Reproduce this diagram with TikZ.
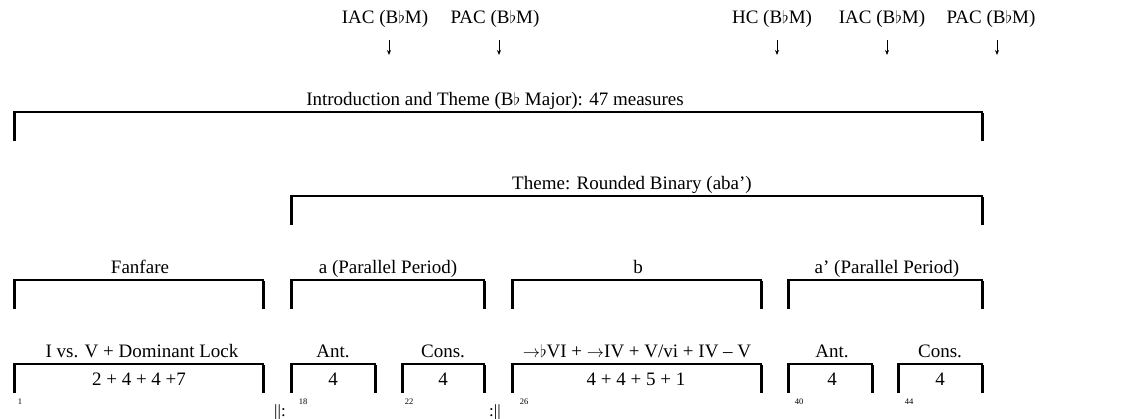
\documentclass[tikz,border=0pt]{standalone}
\usepackage{fontspec}
\setmainfont{Liberation Serif}
\usetikzlibrary{arrows.meta}
\tikzset{
  brk/.style={line width=2.2pt, line join=miter, line cap=butt},
  brkv/.style={line width=3pt, line cap=butt},
  lbl/.style={anchor=base, inner sep=0pt, font=\fontsize{19}{21}\selectfont},
  num/.style={anchor=base, inner sep=0pt, font=\fontsize{8.5}{9}\selectfont},
  rep/.style={anchor=base, inner sep=0pt, font=\fontsize{17}{19}\selectfont},
  arr/.style={line width=0.8pt, -{Stealth[length=5pt,width=4pt]}},
}
\newcommand\fl{\ensuremath{\flat}}
% bracket: left x, right x, top y
\newcommand\bracketdraw[3]{%
  \draw[brk] (#1,#3+29) |- (#2,#3) -- (#2,#3+29);
  \draw[brkv] (#1,#3+1) -- (#1,#3+29);
  \draw[brkv] (#2,#3+1) -- (#2,#3+29);
}
\begin{document}
\begin{tikzpicture}[x=1pt,y=-1pt]
\useasboundingbox (0,0) rectangle (1127,419);
% cadence labels and arrows
\node[lbl] (c1) at (385,24) {IAC (B\fl M)};
\node[lbl] (c2) at (495,24) {PAC (B\fl M)};
\node[lbl] (c3) at (772,24) {HC (B\fl M)};
\node[lbl] (c4) at (882,24) {IAC (B\fl M)};
\node[lbl] (c5) at (991,24) {PAC (B\fl M)};
\coordinate (a1s) at (389,40); \coordinate (a1e) at (389,55);
\coordinate (a2s) at (499,40); \coordinate (a2e) at (499,55);
\coordinate (a3s) at (777,40); \coordinate (a3e) at (777,55);
\coordinate (a4s) at (887,40); \coordinate (a4e) at (887,55);
\coordinate (a5s) at (997,40); \coordinate (a5e) at (997,55);
\foreach \i in {1,...,5} \draw[arr] (a\i s) -- (a\i e);
% level 1
\node[lbl] (intro) at (495,106) {Introduction and Theme (B\fl{} Major): 47 measures};
\bracketdraw{14}{982}{112}
% level 2
\node[lbl] (theme) at (632,190) {Theme: Rounded Binary (aba')};
\bracketdraw{291}{982}{196}
% level 3
\node[lbl] (fan) at (140,274) {Fanfare};
\bracketdraw{14}{263}{280}
\node[lbl] (pa) at (388,274) {a (Parallel Period)};
\bracketdraw{291}{484}{280}
\node[lbl] (pb) at (638,274) {b};
\bracketdraw{512}{761}{280}
\node[lbl] (pa2) at (887,274) {a' (Parallel Period)};
\bracketdraw{788}{982}{280}
% level 4
\node[lbl] (f1) at (142,358) {I vs. V + Dominant Lock};
\node[lbl] (f2) at (139,385) {2 + 4 + 4 +7};
\bracketdraw{14}{263}{364}
\node[lbl] (aa1) at (333,358) {Ant.};
\node[lbl] (aa2) at (333,385) {4};
\bracketdraw{291}{375}{364}
\node[lbl] (ac1) at (443,358) {Cons.};
\node[lbl] (ac2) at (443,385) {4};
\bracketdraw{402}{484}{364}
\node[lbl] (b1) at (637,358) {$\rightarrow$\fl VI + $\rightarrow$IV + V/vi + IV -- V};
\node[lbl] (b2) at (636,385) {4 + 4 + 5 + 1};
\bracketdraw{512}{761}{364}
\node[lbl] (da1) at (832,358) {Ant.};
\node[lbl] (da2) at (832,385) {4};
\bracketdraw{788}{872}{364}
\node[lbl] (dc1) at (940,358) {Cons.};
\node[lbl] (dc2) at (940,385) {4};
\bracketdraw{898}{982}{364}
% measure numbers and repeats
\node[num] (m1) at (20,405) {1};
\node[num] (m18) at (303,405) {18};
\node[num] (m22) at (409,405) {22};
\node[num] (m26) at (524,405) {26};
\node[num] (m40) at (799,405) {40};
\node[num] (m44) at (909,405) {44};
\node[rep] (r1) at (280,416) {||:};
\node[rep] (r2) at (495,416) {:||};
\end{tikzpicture}
\end{document}
